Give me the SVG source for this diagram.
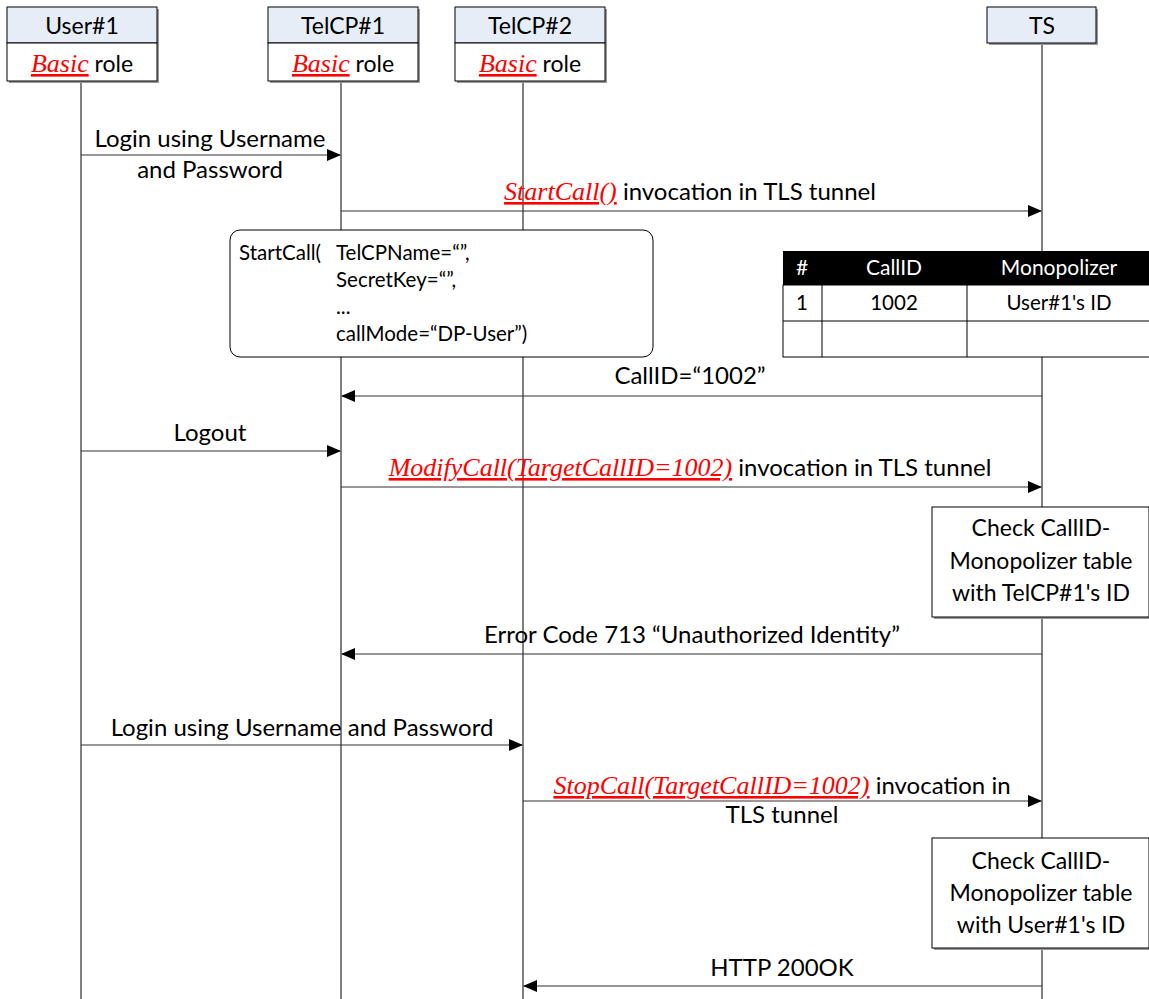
<svg xmlns="http://www.w3.org/2000/svg" width="1149" height="999" viewBox="0 0 1149 999">
<style>
.t{font-family:Lato,"Liberation Sans",sans-serif;font-size:24px;fill:#000}
.h{font-family:Lato,"Liberation Sans",sans-serif;font-size:23px;fill:#000}
.s{font-family:Lato,"Liberation Sans",sans-serif;font-size:20.5px;fill:#000}
.w{font-family:Lato,"Liberation Sans",sans-serif;font-size:21px;fill:#fff}
.f{font-family:"Liberation Serif",serif;font-style:italic;fill:#FF0000;text-decoration:underline;font-size:26px}
.hd{fill:#E6EDF7;stroke:#000;stroke-width:1}
.bx{fill:#fff;stroke:#000;stroke-width:1}
.sh{fill:#999}
.ll{stroke:#000;stroke-width:1}
.ar{stroke:#333;stroke-width:1.2;fill:none}
</style>
<defs>
<marker id="ah" markerWidth="14" markerHeight="12" refX="13" refY="6" orient="auto" markerUnits="userSpaceOnUse">
<path d="M0,0 L14,6 L0,12 Z" fill="#000"/>
</marker>
</defs>
<rect width="1149" height="999" fill="#fff"/>
<g id="lifelines">
<line class="ll" x1="81" y1="81" x2="81" y2="999"/>
<line class="ll" x1="341" y1="81" x2="341" y2="999"/>
<line class="ll" x1="523" y1="81" x2="523" y2="999"/>
<line class="ll" x1="1042" y1="43" x2="1042" y2="999"/>
</g>
<g id="user1">
<rect class="sh" x="9" y="9" width="150" height="74"/>
<rect class="hd" x="7" y="7" width="150" height="36"/>
<rect class="bx" x="7" y="43" width="150" height="38"/>
<text class="h" x="82" y="34" text-anchor="middle">User#1</text>
<text class="h" x="82" y="72" text-anchor="middle"><tspan class="f">Basic</tspan> role</text>
</g>
<g id="telcp1">
<rect class="sh" x="270" y="9" width="150" height="74"/>
<rect class="hd" x="268" y="7" width="150" height="36"/>
<rect class="bx" x="268" y="43" width="150" height="38"/>
<text class="h" x="343" y="34" text-anchor="middle">TelCP#1</text>
<text class="h" x="343" y="72" text-anchor="middle"><tspan class="f">Basic</tspan> role</text>
</g>
<g id="telcp2">
<rect class="sh" x="457" y="9" width="150" height="74"/>
<rect class="hd" x="455" y="7" width="150" height="36"/>
<rect class="bx" x="455" y="43" width="150" height="38"/>
<text class="h" x="530" y="34" text-anchor="middle">TelCP#2</text>
<text class="h" x="530" y="72" text-anchor="middle"><tspan class="f">Basic</tspan> role</text>
</g>
<g id="ts">
<rect class="sh" x="989" y="9" width="109" height="36"/>
<rect class="hd" x="987" y="7" width="109" height="36"/>
<text class="h" x="1042" y="34" text-anchor="middle">TS</text>
</g>
<g id="startcall-note">
<rect x="230" y="230" width="423" height="127" rx="10" ry="10" fill="#fff" stroke="#000" stroke-width="1"/>
<text class="s" x="239" y="260">StartCall(</text>
<text class="s" x="336" y="260">TelCPName=“”,</text>
<text class="s" x="336" y="287">SecretKey=“”,</text>
<text class="s" x="336" y="314">...</text>
<text class="s" x="336" y="341">callMode=“DP-User”)</text>
</g>
<g id="table">
<rect x="783" y="251" width="370" height="34" fill="#000"/>
<rect x="783" y="285" width="370" height="72" fill="#fff" stroke="#000" stroke-width="1"/>
<line class="ll" x1="783" y1="321" x2="1149" y2="321"/>
<line class="ll" x1="822" y1="285" x2="822" y2="357"/>
<line class="ll" x1="967" y1="285" x2="967" y2="357"/>
<text class="w" x="802" y="275" text-anchor="middle">#</text>
<text class="w" x="894" y="275" text-anchor="middle">CallID</text>
<text class="w" x="1059" y="275" text-anchor="middle">Monopolizer</text>
<text class="s" x="802" y="310" text-anchor="middle">1</text>
<text class="s" x="894" y="310" text-anchor="middle">1002</text>
<text class="s" x="1059" y="310" text-anchor="middle">User#1's ID</text>
</g>
<g id="check1">
<rect class="sh" x="934" y="509" width="217" height="110"/>
<rect class="bx" x="932" y="507" width="217" height="110"/>
<text class="h" x="1041" y="536" text-anchor="middle">Check CallID-</text>
<text class="h" x="1041" y="569" text-anchor="middle">Monopolizer table</text>
<text class="h" x="1041" y="601" text-anchor="middle">with TelCP#1's ID</text>
</g>
<g id="check2">
<rect class="sh" x="934" y="840" width="217" height="110"/>
<rect class="bx" x="932" y="838" width="217" height="110"/>
<text class="h" x="1041" y="869" text-anchor="middle">Check CallID-</text>
<text class="h" x="1041" y="901" text-anchor="middle">Monopolizer table</text>
<text class="h" x="1041" y="933" text-anchor="middle">with User#1's ID</text>
</g>
<g id="connectors">
<line class="ar" x1="81" y1="155" x2="340" y2="155" marker-end="url(#ah)"/>
<line class="ar" x1="341" y1="211" x2="1041" y2="211" marker-end="url(#ah)"/>
<line class="ar" x1="1042" y1="396" x2="342" y2="396" marker-end="url(#ah)"/>
<line class="ar" x1="81" y1="451" x2="340" y2="451" marker-end="url(#ah)"/>
<line class="ar" x1="341" y1="487" x2="1041" y2="487" marker-end="url(#ah)"/>
<line class="ar" x1="1042" y1="654" x2="342" y2="654" marker-end="url(#ah)"/>
<line class="ar" x1="81" y1="745" x2="522" y2="745" marker-end="url(#ah)"/>
<line class="ar" x1="523" y1="801" x2="1041" y2="801" marker-end="url(#ah)"/>
<line class="ar" x1="1042" y1="986" x2="524" y2="986" marker-end="url(#ah)"/>
</g>
<g id="labels">
<text class="t" x="210" y="147" text-anchor="middle">Login using Username</text>
<text class="t" x="210" y="178" text-anchor="middle">and Password</text>
<text class="t" x="690" y="200" text-anchor="middle"><tspan class="f">StartCall()</tspan> invocation in TLS tunnel</text>
<text class="t" x="690" y="384" text-anchor="middle">CallID=“1002”</text>
<text class="t" x="210" y="441" text-anchor="middle">Logout</text>
<text class="t" x="690" y="476" text-anchor="middle"><tspan class="f">ModifyCall(TargetCallID=1002)</tspan> invocation in TLS tunnel</text>
<text class="t" x="692" y="643" text-anchor="middle">Error Code 713 “Unauthorized Identity”</text>
<text class="t" x="302" y="736" text-anchor="middle">Login using Username and Password</text>
<text class="t" x="782" y="794" text-anchor="middle"><tspan class="f">StopCall(TargetCallID=1002)</tspan> invocation in</text>
<text class="t" x="782" y="823" text-anchor="middle">TLS tunnel</text>
<text class="t" x="782" y="976" text-anchor="middle">HTTP 200OK</text>
</g>
</svg>
